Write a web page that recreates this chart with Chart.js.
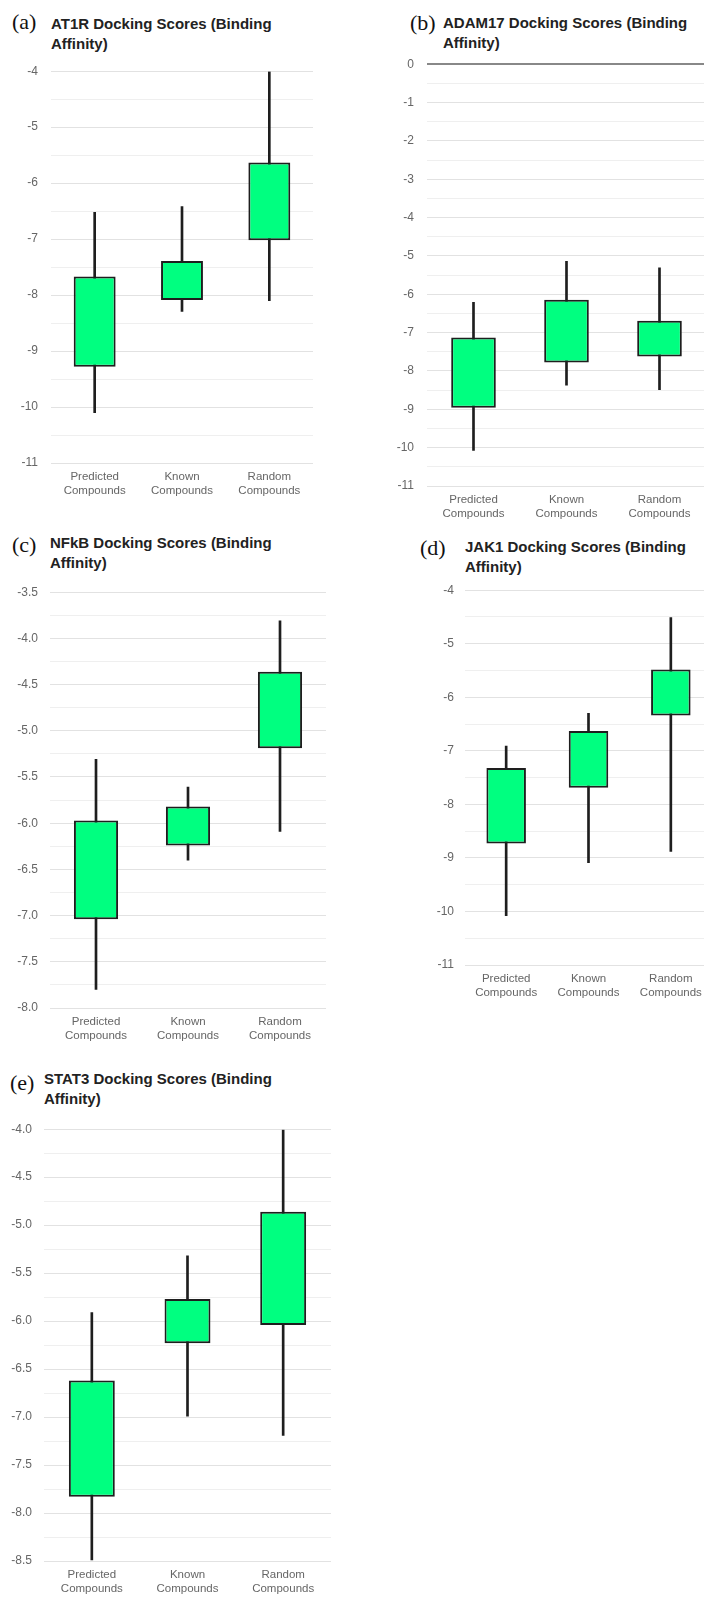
<!DOCTYPE html>
<html>
<head>
<meta charset="utf-8">
<script src="https://cdn.jsdelivr.net/npm/chart.js@4.4.1/dist/chart.umd.min.js"></script>
<style>
  html, body { margin: 0; padding: 0; background: #fff; overflow: hidden; }
  #page { position: relative; width: 704px; height: 1599px; overflow: hidden; background: #fff; }
  canvas { position: absolute; }
  .tag { position: absolute; font-family: "Liberation Serif", "Times New Roman", serif; font-size: 22px; color: #111; line-height: 1; }
  .ttl { position: absolute; font-family: "Liberation Sans", Arial, sans-serif; font-weight: bold; font-size: 15px; line-height: 20px; color: #222; white-space: nowrap; }
</style>
</head>
<body>
<div id="page">
  <div class="tag" style="left:12px;top:11px">(a)</div>
  <div class="ttl" style="left:51px;top:14px">AT1R Docking Scores (Binding<br>Affinity)</div>
  <canvas id="cA"></canvas>

  <div class="tag" style="left:410px;top:12px">(b)</div>
  <div class="ttl" style="left:443px;top:13px">ADAM17 Docking Scores (Binding<br>Affinity)</div>
  <canvas id="cB"></canvas>

  <div class="tag" style="left:12px;top:534px">(c)</div>
  <div class="ttl" style="left:50px;top:533px">NFkB Docking Scores (Binding<br>Affinity)</div>
  <canvas id="cC"></canvas>

  <div class="tag" style="left:420px;top:537px">(d)</div>
  <div class="ttl" style="left:465px;top:537px">JAK1 Docking Scores (Binding<br>Affinity)</div>
  <canvas id="cD"></canvas>

  <div class="tag" style="left:10px;top:1072px">(e)</div>
  <div class="ttl" style="left:44px;top:1069px">STAT3 Docking Scores (Binding<br>Affinity)</div>
  <canvas id="cE"></canvas>
</div>
<script>
// Compound groups shared by every target
const categories = [["Predicted", "Compounds"], ["Known", "Compounds"], ["Random", "Compounds"]];

// Docking score summaries per target: whisker min/max and box lower/upper
const at1rMin   = [-10.10, -8.29, -8.10];
const at1rQ1    = [-9.28, -8.09, -7.02];
const at1rQ3    = [-7.67, -7.39, -5.63];
const at1rMax   = [-6.52, -6.42, -4.01];

const adam17Min = [-10.07, -8.37, -8.49];
const adam17Q1  = [-8.96, -7.78, -7.62];
const adam17Q3  = [-7.13, -6.14, -6.69];
const adam17Max = [-6.21, -5.14, -5.31];

const nfkbMin   = [-7.80, -6.40, -6.09];
const nfkbQ1    = [-7.04, -6.24, -5.19];
const nfkbQ3    = [-5.97, -5.82, -4.36];
const nfkbMax   = [-5.31, -5.61, -3.81];

const jak1Min   = [-10.08, -9.09, -8.88];
const jak1Q1    = [-8.73, -7.69, -6.34];
const jak1Q3    = [-7.32, -6.63, -5.48];
const jak1Max   = [-6.91, -6.30, -4.51];

const stat3Min  = [-8.49, -6.99, -7.19];
const stat3Q1   = [-7.83, -6.23, -6.04];
const stat3Q3   = [-6.62, -5.77, -4.86];
const stat3Max  = [-5.91, -5.32, -4.01];

// Y axis ranges and tick spacing
const at1rAxis   = { min: -11, max: -4,  step: 0.5,  label: 1,   digits: 0 };
const adam17Axis = { min: -11, max: 0,   step: 0.5,  label: 1,   digits: 0 };
const nfkbAxis   = { min: -8,  max: -3.5, step: 0.25, label: 0.5, digits: 1 };
const jak1Axis   = { min: -11, max: -4,  step: 0.5,  label: 1,   digits: 0 };
const stat3Axis  = { min: -8.5, max: -4, step: 0.25, label: 0.5, digits: 1 };

const FONT = "'Liberation Sans', Arial, sans-serif";

function zip(a, b) { return a.map((v, i) => [v, b[i]]); }

function boxChart(id, frame, axis, mins, q1, q3, maxs) {
  const cv = document.getElementById(id);
  cv.width = frame.w; cv.height = frame.h;
  cv.style.left = frame.x + "px"; cv.style.top = frame.y + "px";
  cv.style.width = frame.w + "px"; cv.style.height = frame.h + "px";
  const isLabeled = v => Math.abs(v / axis.label - Math.round(v / axis.label)) < 1e-6;
  return new Chart(cv, {
    type: "bar",
    data: {
      labels: categories,
      datasets: [
        {
          label: "box",
          data: zip(q1, q3),
          backgroundColor: "#00ff80",
          borderColor: "#1e1e1e",
          borderWidth: 2,
          borderSkipped: false,
          barPercentage: 0.48,
          categoryPercentage: 1,
          grouped: false,
          order: 0
        },
        {
          label: "range",
          data: zip(mins, maxs),
          backgroundColor: "#1e1e1e",
          borderWidth: 0,
          barThickness: 2,
          grouped: false,
          order: 1
        }
      ]
    },
    options: {
      responsive: false,
      animation: false,
      devicePixelRatio: 1,
      layout: { padding: { top: 10, left: 0, right: 0, bottom: 0 } },
      plugins: { legend: { display: false }, tooltip: { enabled: false }, title: { display: false } },
      scales: {
        x: {
          offset: true,
          grid: { display: false, drawTicks: false },
          border: { display: false },
          ticks: { color: "#666", font: { family: FONT, size: 11.5 }, padding: 7, maxRotation: 0, autoSkip: false },
          afterFit: s => { s.height = frame.xh; }
        },
        y: {
          min: axis.min, max: axis.max,
          border: { display: false },
          grid: {
            drawTicks: false,
            color: c => (c.tick && c.tick.value === 0) ? "#888" : (isLabeled(c.tick.value) ? "#e2e2e2" : "#efefef"),
            lineWidth: c => (c.tick && c.tick.value === 0) ? 2 : 1
          },
          ticks: {
            stepSize: axis.step,
            autoSkip: false,
            padding: frame.pad,
            color: "#666",
            font: { family: FONT, size: 12 },
            callback: v => isLabeled(v) ? Number(v).toFixed(axis.digits) : ""
          },
          afterFit: s => { s.width = frame.yw; }
        }
      }
    }
  });
}

boxChart("cA", { x: 0,   y: 51,   w: 313, h: 457, yw: 51, xh: 45, pad: 13 }, at1rAxis,   at1rMin,   at1rQ1,   at1rQ3,   at1rMax);
boxChart("cB", { x: 370, y: 44,   w: 336, h: 487, yw: 57, xh: 45, pad: 13 }, adam17Axis, adam17Min, adam17Q1, adam17Q3, adam17Max);
boxChart("cC", { x: 0,   y: 573,  w: 326, h: 480, yw: 50, xh: 45, pad: 12 }, nfkbAxis,   nfkbMin,   nfkbQ1,   nfkbQ3,   nfkbMax);
boxChart("cD", { x: 400, y: 572,  w: 312, h: 438, yw: 65, xh: 45, pad: 11 }, jak1Axis,   jak1Min,   jak1Q1,   jak1Q3,   jak1Max);
boxChart("cE", { x: 0,   y: 1110, w: 331, h: 496, yw: 44, xh: 45, pad: 12 }, stat3Axis,  stat3Min,  stat3Q1,  stat3Q3,  stat3Max);
</script>
</body>
</html>
